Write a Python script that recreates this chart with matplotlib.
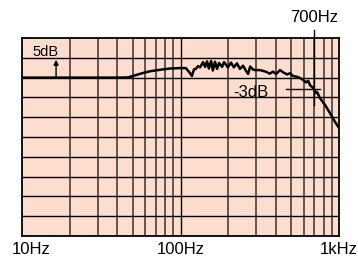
import matplotlib
matplotlib.use("Agg")
import matplotlib.pyplot as plt

plt.rcParams['font.family'] = ['Liberation Sans', 'DejaVu Sans']

# Frequency response (Hz, dB)
freq = [10, 20, 30, 40, 46.7, 50, 56, 64, 75, 86, 99, 108, 115, 118, 121.6,
        125, 129, 133, 138.6, 143, 147, 151, 156, 160, 165, 170, 175, 183,
        188, 199, 208, 217, 227, 237, 248, 259, 267, 275, 287, 300, 318,
        345, 365, 384, 400, 425, 445, 470, 491, 513, 543, 568, 593, 620,
        639, 656, 686, 696, 716, 726, 759, 816, 878, 944, 1000]
gain = [0, 0, 0, 0, 0.05, 0.4, 1.0, 1.6, 2.0, 2.3, 2.4, 2.4, 1.1, 0.4, 2.1,
        2.2, 2.9, 2.6, 3.9, 2.7, 4.1, 2.3, 4.2, 1.8, 4.0, 2.2, 3.7, 2.7,
        3.9, 2.6, 3.8, 2.6, 3.6, 2.2, 3.0, 1.7, 0.9, 2.8, 2.0, 1.9, 1.9,
        1.5, 1.0, 1.5, 0.9, 1.9, 1.3, 0.8, 1.1, 0.4, 0.2, -0.1, -0.6, -1.2,
        -0.8, -1.9, -2.6, -3.1, -3.9, -3.6, -5.2, -6.9, -9.0, -11.2, -12.7]

minor_freqs = [20, 30, 40, 50, 60, 70, 80, 90, 200, 300, 400, 500, 600, 700, 800, 900]
db_lines = [-35, -30, -25, -20, -15, -10, -5, 0, 5]
tick_labels = ['10Hz', '100Hz', '1kHz']
cutoff = 700

fig = plt.figure(figsize=(3.58, 2.60), dpi=100)
ax = fig.add_axes([0.0615, 0.0923, 0.8855, 0.7615])
ax.set_facecolor('#FDDECE')
ax.set_xscale('log')
ax.set_xlim(10, 1000)
ax.set_ylim(-40, 10)

# grid
for f in minor_freqs:
    ax.axvline(f, color='#3a3030', lw=1.1, zorder=1)
ax.axvline(100, color='black', lw=1.0, zorder=1)
for d in db_lines:
    ax.axhline(d, color='black', lw=1.0, zorder=1)

ax.plot(freq, gain, color='black', lw=1.8, zorder=3)

for s in ax.spines.values():
    s.set_linewidth(1.3)
ax.set_xticks([])
ax.set_yticks([])
ax.minorticks_off()

# axis labels as text under the frame
lab = dict(transform=ax.get_xaxis_transform(), ha='center', va='center', fontsize=12)
ax.text(11.4, -0.07, tick_labels[0], **lab)
ax.text(100, -0.07, tick_labels[1], **lab)
ax.text(1000, -0.07, tick_labels[2], **lab)

# 5dB scale arrow
ax.annotate('', xy=(16.4, 4.5), xytext=(16.4, 0),
            arrowprops=dict(arrowstyle='-|>', color='black', lw=1.0,
                            mutation_scale=7, shrinkA=0, shrinkB=0), zorder=4)
ax.text(14.0, 6.5, '5dB', ha='center', va='center', fontsize=10.5)

# cutoff markers
ax.plot([cutoff, cutoff], [12, -6.9], color='black', lw=1.0, clip_on=False, zorder=4)
ax.text(cutoff, 15.3, '700Hz', ha='center', va='center', fontsize=12)
ax.plot([463, 759], [-3, -3], color='black', lw=1.0, zorder=4)
ax.text(278, -3.7, '-3dB', ha='center', va='center', fontsize=12)

fig.savefig('out.png', dpi=100)
